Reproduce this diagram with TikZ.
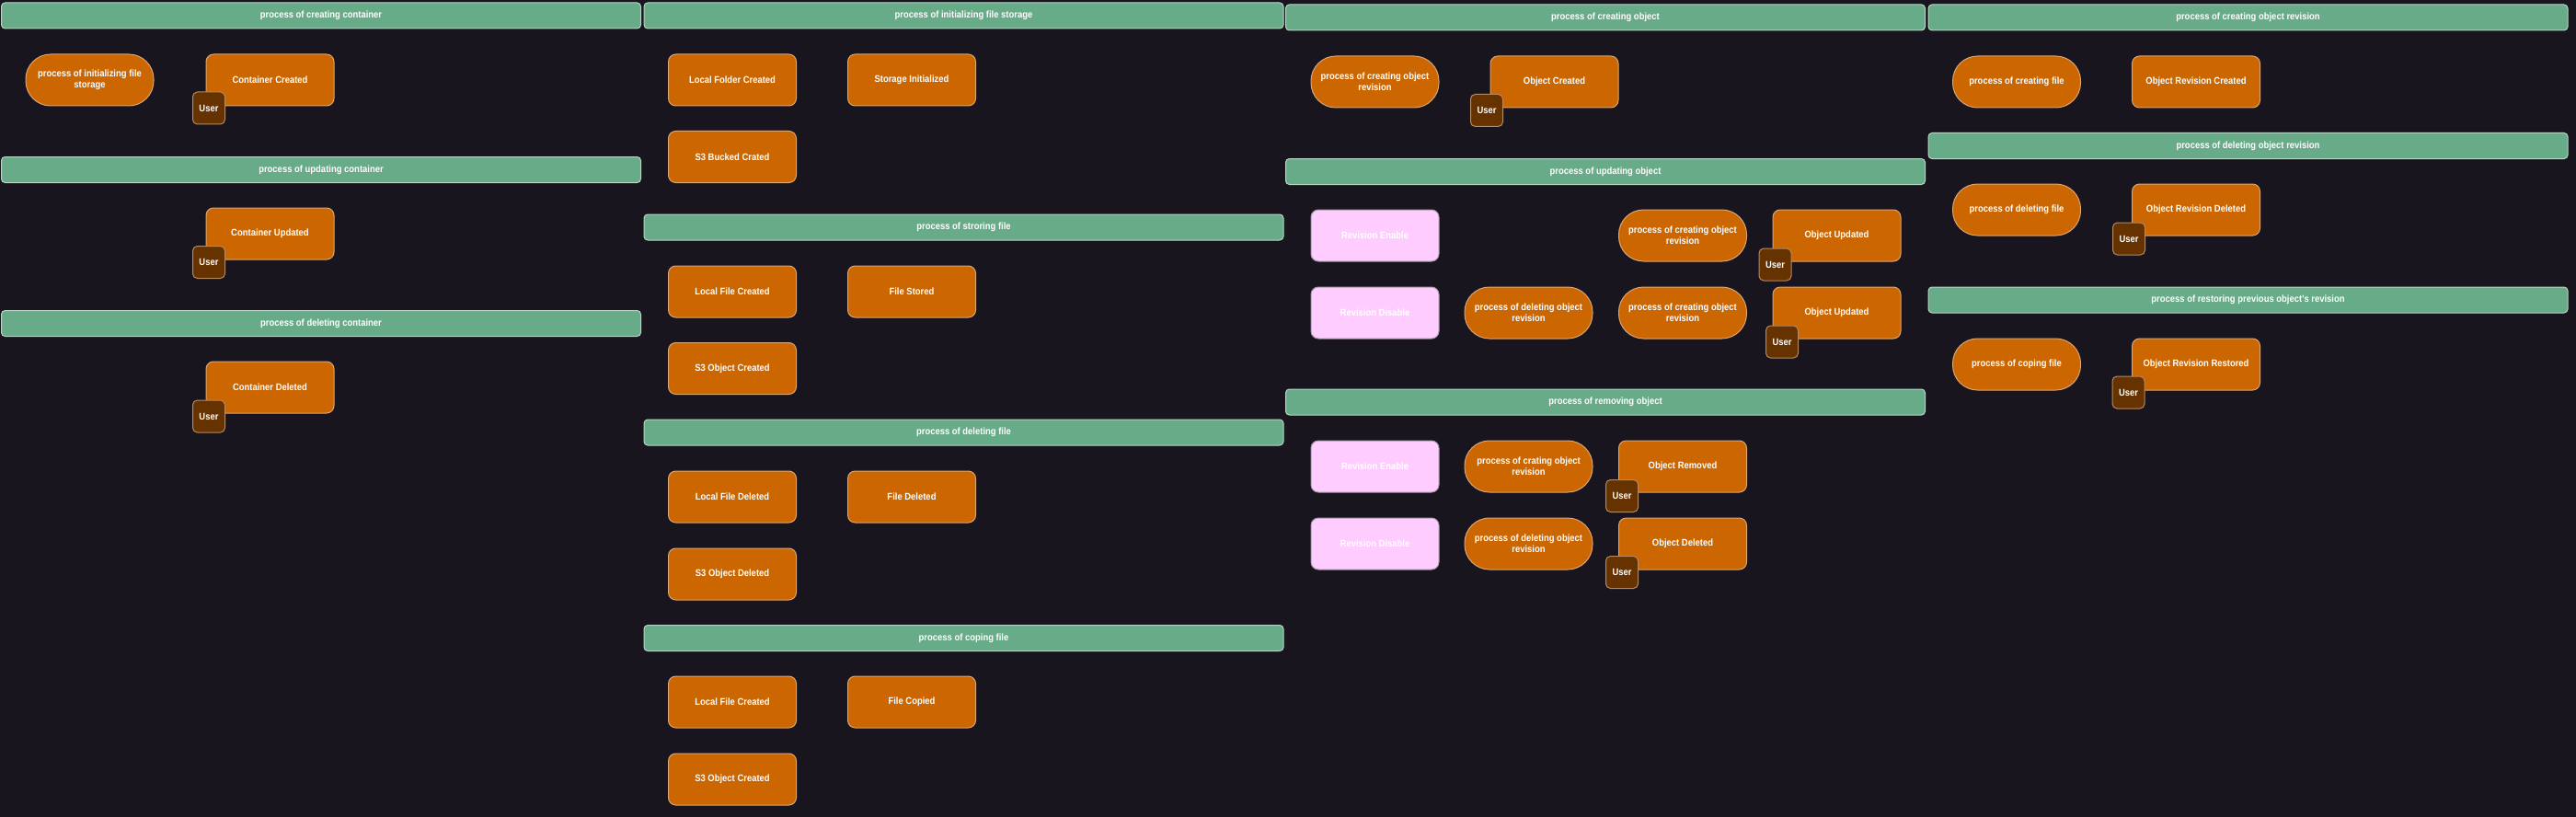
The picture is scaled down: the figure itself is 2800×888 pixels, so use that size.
\documentclass[tikz,border=0pt]{standalone}
\usepackage{fontspec}
\setmainfont{Liberation Sans}[FakeStretch=0.9]
\definecolor{bg}{HTML}{18151F}
\definecolor{hdrfill}{HTML}{67AB88}
\definecolor{hdrline}{HTML}{B8D6C6}
\definecolor{evtfill}{HTML}{CC6600}
\definecolor{evtline}{HTML}{D9A677}
\definecolor{usrfill}{HTML}{663300}
\definecolor{usrline}{HTML}{B58A63}
\definecolor{pinkfill}{HTML}{FFCCFF}
\definecolor{pinkline}{HTML}{A898A8}
\tikzset{
  basefont/.style={font=\bfseries\fontsize{10.5}{12}\selectfont, text=white, align=center, inner sep=0pt},
  hdr/.style={basefont, draw=hdrline, fill=hdrfill, line width=1pt, rounded corners=4pt, minimum width=695pt, minimum height=28pt},
  evt/.style={basefont, draw=evtline, fill=evtfill, line width=1pt, rounded corners=8pt, minimum width=139pt, minimum height=56pt},
  proc/.style={basefont, draw=evtline, fill=evtfill, line width=1pt, rounded corners=27pt, minimum width=139pt, minimum height=56pt},
  rev/.style={basefont, draw=pinkline, fill=pinkfill, line width=1pt, rounded corners=8pt, minimum width=139pt, minimum height=56pt},
  usr/.style={basefont, draw=usrline, fill=usrfill, line width=1pt, rounded corners=5pt, minimum width=35pt, minimum height=35pt},
}
\begin{document}
\begin{tikzpicture}[x=1pt,y=-1pt]
\fill[bg] (0,0) rectangle (2800,888);
\useasboundingbox (0,0) rectangle (2800,888);
% ---------------- column 1
\node[hdr] (h11) at (349,17) {process of creating container};
\node[proc] (c1p1) at (97.5,87) {process of initializing file\\storage};
\node[evt] (c1e1) at (293.5,87) {Container Created};
\node[usr] (c1u1) at (227,117.5) {User};
\node[hdr] (h12) at (349,184.5) {process of updating container};
\node[evt] (c1e2) at (293.5,254) {Container Updated};
\node[usr] (c1u2) at (227,285) {User};
\node[hdr] (h13) at (349,351.5) {process of deleting container};
\node[evt] (c1e3) at (293.5,421) {Container Deleted};
\node[usr] (c1u3) at (227,452.5) {User};
% ---------------- column 2
\node[hdr] (h21) at (1047.5,17) {process of initializing file storage};
\node[evt] (c2a1) at (796,87) {Local Folder Created};
\node[evt] (c2b1) at (991,87) {Storage Initialized};
\node[evt] (c2a2) at (796,170.5) {S3 Bucked Crated};
\node[hdr] (h22) at (1047.5,247) {process of stroring file};
\node[evt] (c2a3) at (796,317) {Local File Created};
\node[evt] (c2b3) at (991,317) {File Stored};
\node[evt] (c2a4) at (796,400.5) {S3 Object Created};
\node[hdr] (h23) at (1047.5,470) {process of deleting file};
\node[evt] (c2a5) at (796,540) {Local File Deleted};
\node[evt] (c2b5) at (991,540) {File Deleted};
\node[evt] (c2a6) at (796,624) {S3 Object Deleted};
\node[hdr] (h24) at (1047.5,693.5) {process of coping file};
\node[evt] (c2a7) at (796,763) {Local File Created};
\node[evt] (c2b7) at (991,763) {File Copied};
\node[evt] (c2a8) at (796,847) {S3 Object Created};
% ---------------- column 3
\node[hdr] (h31) at (1745,19) {process of creating object};
\node[proc] (c3p1) at (1494.5,89) {process of creating object\\revision};
\node[evt] (c3e1) at (1689.5,89) {Object Created};
\node[usr] (c3u1) at (1616,120) {User};
\node[hdr] (h32) at (1745,186.5) {process of updating object};
\node[rev] (c3r1) at (1494.5,256) {Revision Enable};
\node[proc] (c3p2) at (1829,256) {process of creating object\\revision};
\node[evt] (c3e2) at (1996.5,256) {Object Updated};
\node[usr] (c3u2) at (1929.5,287.5) {User};
\node[rev] (c3r2) at (1494.5,340) {Revision Disable};
\node[proc] (c3p3) at (1661.5,340) {process of deleting object\\revision};
\node[proc] (c3p4) at (1829,340) {process of creating object\\revision};
\node[evt] (c3e3) at (1996.5,340) {Object Updated};
\node[usr] (c3u3) at (1937,371.5) {User};
\node[hdr] (h33) at (1745,437) {process of removing object};
\node[rev] (c3r3) at (1494.5,507) {Revision Enable};
\node[proc] (c3p5) at (1661.5,507) {process of crating object\\revision};
\node[evt] (c3e4) at (1829,507) {Object Removed};
\node[usr] (c3u4) at (1763,539) {User};
\node[rev] (c3r4) at (1494.5,591) {Revision Disable};
\node[proc] (c3p6) at (1661.5,591) {process of deleting object\\revision};
\node[evt] (c3e5) at (1829,591) {Object Deleted};
\node[usr] (c3u5) at (1763,622) {User};
% ---------------- column 4
\node[hdr] (h41) at (2443.5,19) {process of creating object revision};
\node[proc] (c4p1) at (2192,89) {process of creating file};
\node[evt] (c4e1) at (2387,89) {Object Revision Created};
\node[hdr] (h42) at (2443.5,158.5) {process of deleting object revision};
\node[proc] (c4p2) at (2192,228) {process of deleting file};
\node[evt] (c4e2) at (2387,228) {Object Revision Deleted};
\node[usr] (c4u2) at (2314,259.5) {User};
\node[hdr] (h43) at (2443.5,326) {process of restoring previous object's revision};
\node[proc] (c4p3) at (2192,396) {process of coping file};
\node[evt] (c4e3) at (2387,396) {Object Revision Restored};
\node[usr] (c4u3) at (2313.5,426.5) {User};
\end{tikzpicture}
\end{document}
